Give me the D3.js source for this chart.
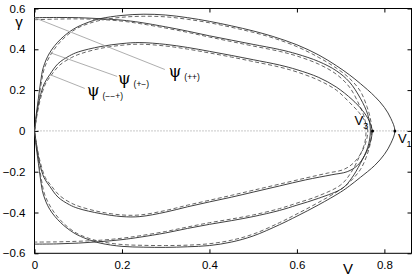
<!DOCTYPE html>
<html><head><meta charset="utf-8">
<script src="https://cdn.jsdelivr.net/npm/d3@7"></script>
<style>body{margin:0;background:#fff}svg{display:block}</style>
</head><body><svg id="c" width="415" height="277"></svg>
<script>
// ---- data (V, gamma) ----
const xTicks = [0, 0.2, 0.4, 0.6, 0.8];
const yTicks = [-0.6, -0.4, -0.2, 0, 0.2, 0.4, 0.6];
const xTickLabels = ["0", "0.2", "0.4", "0.6", "0.8"];
const yTickLabels = ["\u22120.6", "\u22120.4", "\u22120.2", "0", "0.2", "0.4", "0.6"];

// outer loop through V1 (solid)
const loopV1 = [[0,0],[0.004,0.08],[0.009,0.16],[0.014,0.24],[0.02,0.31],[0.035,0.384],[0.06,0.45],[0.09,0.5],[0.12,0.53],[0.15,0.55],[0.2,0.566],[0.25,0.572],[0.3,0.568],[0.35,0.555],[0.4,0.537],[0.45,0.515],[0.5,0.49],[0.545,0.463],[0.6,0.422],[0.65,0.372],[0.69,0.32],[0.72,0.275],[0.745,0.232],[0.778,0.169],[0.8,0.115],[0.815,0.06],[0.824,0],
  [0.815,-0.06],[0.8,-0.115],[0.778,-0.169],[0.745,-0.228],[0.72,-0.27],[0.7,-0.3],[0.65,-0.362],[0.6,-0.418],[0.56,-0.46],[0.5,-0.515],[0.45,-0.545],[0.4,-0.562],[0.35,-0.568],[0.3,-0.571],[0.25,-0.57],[0.2,-0.566],[0.15,-0.55],[0.12,-0.53],[0.09,-0.5],[0.06,-0.45],[0.035,-0.385],[0.02,-0.31],[0.014,-0.24],[0.009,-0.16],[0.004,-0.08],[0,0]];
const loopV1Dash = [[0,0],[0.005,0.08],[0.01,0.16],[0.016,0.24],[0.023,0.31],[0.04,0.384],[0.065,0.45],[0.095,0.5],[0.125,0.527],[0.155,0.544],[0.2,0.557],[0.25,0.562],[0.3,0.559],[0.35,0.547],[0.4,0.53],[0.45,0.508],[0.5,0.483],[0.545,0.456],[0.6,0.413],[0.65,0.36],[0.69,0.308],[0.72,0.258],[0.745,0.195],[0.76,0.12],[0.768,0.06],[0.771,0],
  [0.768,-0.06],[0.76,-0.12],[0.745,-0.19],[0.72,-0.252],[0.7,-0.287],[0.65,-0.35],[0.6,-0.407],[0.56,-0.45],[0.5,-0.506],[0.45,-0.536],[0.4,-0.553],[0.35,-0.56],[0.3,-0.562],[0.25,-0.561],[0.2,-0.557],[0.155,-0.544],[0.125,-0.527],[0.095,-0.5],[0.065,-0.45],[0.04,-0.384],[0.023,-0.31],[0.016,-0.24],[0.01,-0.16],[0.005,-0.08],[0,0]];

// loop from the left edge (solid / dashed)
const loopEdge = [[0,0.555],[0.05,0.556],[0.1,0.555],[0.15,0.55],[0.2,0.543],[0.241,0.532],[0.3,0.51],[0.35,0.489],[0.4,0.466],[0.45,0.445],[0.5,0.424],[0.56,0.399],[0.6,0.377],[0.65,0.34],[0.69,0.295],[0.72,0.24],[0.745,0.16],[0.762,0.08],[0.768,0],
  [0.762,-0.08],[0.745,-0.16],[0.725,-0.232],[0.705,-0.28],[0.65,-0.33],[0.6,-0.364],[0.56,-0.39],[0.5,-0.42],[0.45,-0.44],[0.4,-0.458],[0.35,-0.478],[0.3,-0.5],[0.241,-0.521],[0.2,-0.533],[0.15,-0.543],[0.1,-0.55],[0.05,-0.554],[0,-0.555]];
const loopEdgeDash = [[0,0.545],[0.05,0.548],[0.1,0.549],[0.15,0.546],[0.2,0.538],[0.241,0.526],[0.3,0.504],[0.35,0.483],[0.4,0.46],[0.45,0.438],[0.5,0.416],[0.56,0.39],[0.6,0.367],[0.65,0.327],[0.69,0.278],[0.72,0.215],[0.742,0.13],[0.755,0.06],[0.758,0],
  [0.755,-0.06],[0.742,-0.13],[0.722,-0.21],[0.7,-0.265],[0.65,-0.318],[0.6,-0.354],[0.56,-0.381],[0.5,-0.412],[0.45,-0.432],[0.4,-0.45],[0.35,-0.471],[0.3,-0.493],[0.241,-0.514],[0.2,-0.526],[0.15,-0.536],[0.1,-0.541],[0.05,-0.544],[0,-0.545]];

// inner loop (solid / dashed)
const loopInner = [[0,0],[0.005,0.08],[0.012,0.16],[0.022,0.23],[0.035,0.276],[0.054,0.33],[0.08,0.368],[0.1,0.387],[0.15,0.413],[0.2,0.428],[0.241,0.433],[0.3,0.424],[0.35,0.409],[0.4,0.39],[0.45,0.37],[0.5,0.349],[0.56,0.323],[0.6,0.3],[0.65,0.262],[0.69,0.215],[0.726,0.154],[0.75,0.1],[0.765,0.05],[0.772,0],
  [0.767,-0.06],[0.755,-0.12],[0.738,-0.17],[0.715,-0.2],[0.68,-0.215],[0.62,-0.24],[0.56,-0.27],[0.5,-0.3],[0.45,-0.325],[0.4,-0.348],[0.35,-0.372],[0.3,-0.398],[0.241,-0.42],[0.2,-0.42],[0.15,-0.405],[0.1,-0.38],[0.08,-0.362],[0.054,-0.325],[0.035,-0.272],[0.022,-0.23],[0.012,-0.16],[0.005,-0.08],[0,0]];
const loopInnerDash = [[0,0],[0.006,0.08],[0.014,0.16],[0.025,0.23],[0.038,0.272],[0.058,0.323],[0.085,0.36],[0.105,0.378],[0.15,0.404],[0.2,0.42],[0.241,0.425],[0.3,0.416],[0.35,0.401],[0.4,0.382],[0.45,0.362],[0.5,0.34],[0.56,0.313],[0.6,0.289],[0.65,0.248],[0.69,0.2],[0.72,0.14],[0.742,0.09],[0.756,0.045],[0.762,0],
  [0.757,-0.06],[0.745,-0.115],[0.728,-0.16],[0.706,-0.19],[0.672,-0.206],[0.62,-0.231],[0.56,-0.261],[0.5,-0.291],[0.45,-0.316],[0.4,-0.34],[0.35,-0.364],[0.3,-0.39],[0.241,-0.412],[0.2,-0.412],[0.15,-0.397],[0.105,-0.372],[0.085,-0.355],[0.058,-0.318],[0.038,-0.268],[0.025,-0.23],[0.014,-0.16],[0.006,-0.08],[0,0]];

// special points
const pointNames = ["V", "V"];
const pointSubs = ["3", "1"];
const pointV = [0.773, 0.824];
const pointGamma = [0, 0];

// curve labels: subscript, anchor (V,gamma) of text, leader start and end
const labelSubs = ["(++)", "(+\u2212)", "(\u2212\u2212+)"];
const labelAt = [[0.307, 0.266], [0.191, 0.232], [0.12, 0.169]];
const leaderFrom = [[0, 0.555], [0.035, 0.384], [0.035, 0.276]];
const leaderTo = [[0.298, 0.301], [0.189, 0.267], [0.115, 0.208]];

// ---- drawing ----
const svg = d3.select("#c");
const L = 34.5, R = 411.5, T = 8.5, B = 253.3;
const x = d3.scaleLinear().domain([0, 0.862]).range([L, R]);
const y = d3.scaleLinear().domain([-0.6, 0.6]).range([B, T]);
const font = "Helvetica, 'Liberation Sans', Arial, sans-serif";

// zero dotted line
svg.append("line").attr("x1", x(0)).attr("x2", R).attr("y1", y(0)).attr("y2", y(0))
  .attr("stroke", "#777").attr("stroke-width", 0.8).attr("stroke-dasharray", "1,2");

// axes
const ax = g => g.call(s => s.selectAll("text").attr("font-family", font).attr("font-size", 11.5).attr("fill", "#000"))
  .call(s => s.selectAll("line").attr("stroke", "#000")).call(s => s.select(".domain").remove());
svg.append("g").attr("transform", `translate(0,${B})`)
  .call(d3.axisBottom(x).tickValues(xTicks).tickSize(-4).tickPadding(8).tickFormat((d, i) => xTickLabels[i])).call(ax);
svg.append("g").attr("transform", `translate(0,${T})`)
  .call(d3.axisTop(x).tickValues(xTicks).tickSize(-4).tickFormat("")).call(ax);
svg.append("g").attr("transform", `translate(${L},0)`)
  .call(d3.axisLeft(y).tickValues(yTicks).tickSize(-4).tickPadding(9).tickFormat((d, i) => yTickLabels[i])).call(ax);
svg.append("g").attr("transform", `translate(${R},0)`)
  .call(d3.axisRight(y).tickValues(yTicks).tickSize(-4).tickFormat("")).call(ax);
svg.append("rect").attr("x", L).attr("y", T).attr("width", R - L).attr("height", B - T)
  .attr("fill", "none").attr("stroke", "#000").attr("stroke-width", 1);

// curves
const line = d3.line().x(d => x(d[0])).y(d => y(d[1])).curve(d3.curveCatmullRom.alpha(0.5));
const curves = [
  [loopV1, false], [loopV1Dash, true], [loopEdge, false], [loopEdgeDash, true], [loopInner, false], [loopInnerDash, true]
];
curves.forEach(([data, dashed]) => {
  svg.append("path").attr("d", line(data)).attr("fill", "none")
    .attr("stroke", dashed ? "#555" : "#2a2a2a").attr("stroke-width", 0.9)
    .attr("stroke-dasharray", dashed ? "4,2.5" : null);
});

// leader lines
leaderFrom.forEach((p, i) => {
  svg.append("line").attr("x1", x(p[0])).attr("y1", y(p[1])).attr("x2", x(leaderTo[i][0])).attr("y2", y(leaderTo[i][1]))
    .attr("stroke", "#999").attr("stroke-width", 0.8);
});
labelAt.forEach((p, i) => {
  const t = svg.append("text").attr("x", x(p[0])).attr("y", y(p[1])).attr("font-family", font);
  t.append("tspan").attr("font-size", 16).attr("font-family", "'DejaVu Serif', 'Liberation Serif', serif").text("\u03C8");
  t.append("tspan").attr("font-size", 8.5).attr("dx", 3).attr("dy", 3).text(labelSubs[i]);
});

// points
pointV.forEach((v, i) => {
  svg.append("circle").attr("cx", x(v)).attr("cy", y(pointGamma[i])).attr("r", 1.5).attr("fill", "#000");
});
const pv3 = svg.append("text").attr("x", x(pointV[0]) - 18).attr("y", y(pointGamma[0]) - 6).attr("font-family", font);
pv3.append("tspan").attr("font-size", 13).text(pointNames[0]);
pv3.append("tspan").attr("font-size", 9).attr("dy", 4).text(pointSubs[0]);
const pv1 = svg.append("text").attr("x", x(pointV[1]) + 3).attr("y", y(pointGamma[1]) + 12).attr("font-family", font);
pv1.append("tspan").attr("font-size", 13).text(pointNames[1]);
pv1.append("tspan").attr("font-size", 9).attr("dy", 4).text(pointSubs[1]);

// axis titles
svg.append("text").attr("x", 19).attr("y", 27).attr("text-anchor", "middle").attr("font-family", font).attr("font-size", 15).text("\u03B3");
svg.append("text").attr("x", 348).attr("y", 274).attr("text-anchor", "middle").attr("font-family", font).attr("font-size", 15).text("V");
</script></body></html>
